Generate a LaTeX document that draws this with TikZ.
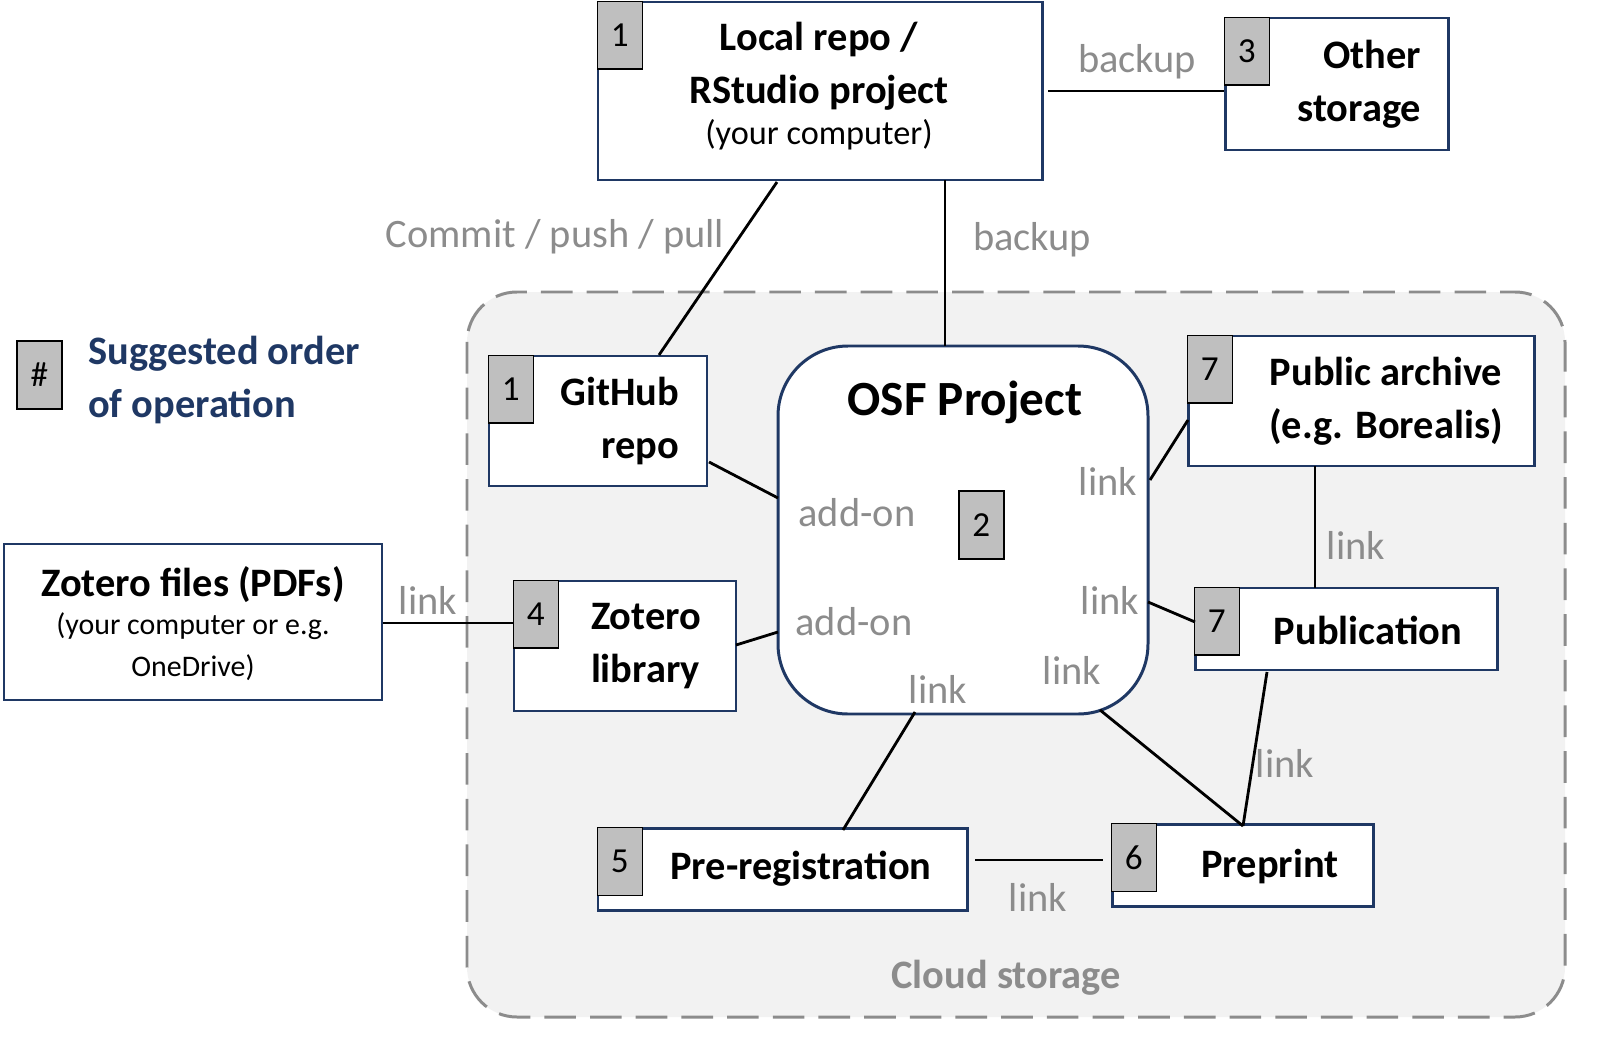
\documentclass[tikz,border=0pt]{standalone}
\usepackage{fontspec}
\setmainfont{Carlito}
\usetikzlibrary{fit}
\usetikzlibrary{positioning}
\usetikzlibrary{calc}
\definecolor{navy}{HTML}{1F3864}
\definecolor{numgray}{HTML}{BFBFBF}
\definecolor{lblgray}{HTML}{8C8C8C}
\definecolor{cloudfill}{HTML}{F2F2F2}
\tikzset{
  boxst/.style={draw=navy, line width=1.7pt, fill=white, inner sep=0pt},
  numst/.style={draw=black, line width=1pt, fill=numgray, anchor=north west,
    minimum width=0.9cm, minimum height=1.36cm, inner sep=0pt, font=\fontsize{20}{22}\selectfont},
  titlest/.style={font=\bfseries\fontsize{23}{30}\selectfont, align=center},
  lblst/.style={text=lblgray, font=\fontsize{23}{27}\selectfont},
  conn/.style={line width=1.6pt, black}
}
\begin{document}
\begin{tikzpicture}[x=0.02cm, y=-0.02cm]
    \useasboundingbox (0,0) rectangle (1617,1058);
    % cloud storage area
    \draw[lblgray, line width=1.7pt, dash pattern=on 18pt off 8pt, fill=cloudfill, rounded corners=1cm]
        (467,292) rectangle (1565,1017);
    \node[text=lblgray, font=\bfseries\fontsize{23}{26}\selectfont] (cloud) at (1006,978) {Cloud storage};

    % boxes
    \node[boxst, fit={(598,2)(1042,180)}] (local) {};
    \node[boxst, fit={(1225,18)(1448,150)}] (other) {};
    \node[boxst, fit={(489,356)(707,486)}] (github) {};
    \node[boxst, fit={(778,346)(1148,714)}, rounded corners=1.4cm] (osf) {};
    \node[boxst, fit={(1188,336)(1534,466)}] (archive) {};
    \node[boxst, fit={(1195,588)(1497,670)}] (pub) {};
    \node[boxst, fit={(4,544)(382,700)}] (zfiles) {};
    \node[boxst, fit={(514,581)(736,711)}] (zlib) {};
    \node[boxst, fit={(598,828)(967,910)}] (prereg) {};
    \node[boxst, fit={(1112,824)(1373,906)}] (preprint) {};

    % numbers
    \node[numst] (nlocal) at (local.north west) {1};
    \node[numst] (nother) at (other.north west) {3};
    \node[numst] (ngit) at (github.north west) {1};
    \node[numst] (narch) at (archive.north west) {7};
    \node[numst] (npub) at (pub.north west) {7};
    \node[numst] (nzlib) at (zlib.north west) {4};
    \node[numst] (npre) at (prereg.north west) {5};
    \node[numst] (nprint) at (preprint.north west) {6};
    \node[numst] (nosf) at (958,490) {2};
    \node[numst] (nleg) at (16,340) {\#};

    % texts
    \node[titlest] (tlocal) at (819,66) {Local repo /\\RStudio project};
    \node[font=\fontsize{19.5}{23}\selectfont] (tlocal2) at (819,135) {(your computer)};
    \node[titlest, align=right] (tother) at (1352,84) {\hspace*{1em}Other\\storage};
    \node[titlest, align=right] (tgit) at (620,421) {GitHub\\\hspace*{1em}repo};
    \node[font=\bfseries\fontsize{28}{32}\selectfont] (tosf) at (965,402) {OSF Project};
    \node[titlest] (tarch) at (1386,401) {Public archive\\(e.g. Borealis)};
    \node[titlest] (tpub) at (1368,630) {Publication};
    \node[titlest] (tzf) at (193,585) {Zotero files (PDFs)};
    \node[font=\fontsize{17}{24}\selectfont, align=center] (tzf2) at (193,647) {(your computer or e.g.\\OneDrive)};
    \node[titlest, align=left] (tzlib) at (646,646) {Zotero\\library};
    \node[titlest] (tpre) at (801,869) {Pre-registration};
    \node[titlest] (tprint) at (1270,866) {Preprint};
    \node[font=\bfseries\fontsize{23}{30}\selectfont, text=navy, align=left, anchor=west] (tleg) at (82,380) {Suggested order\\of operation};

    % connectors
    \draw[conn] (945,180) -- (945,346);
    \draw[conn] (1048,91) -- (other.west |- 0,91);
    \draw[conn] (777,182) -- (659,355);
    \draw[conn] (709,462) -- (778,498);
    \draw[conn] (736,645) -- (778,632);
    \draw[conn] (zfiles.east |- 0,623) -- (zlib.west |- 0,623);
    \draw[conn] (1150,480) -- (1188,420);
    \draw[conn] (1148,602) -- (1195,622);
    \draw[conn] (1315,466) -- (1315,588);
    \draw[conn] (915,712) -- (843,830);
    \draw[conn] (1100,710) -- (1243,826);
    \draw[conn] (1267,672) -- (1243,826);
    \draw[conn] (975,860) -- (1103,860);

    % connector labels
    \node[lblst] (lb1) at (1137,62) {backup};
    \node[lblst] (lb2) at (1032,240) {backup};
    \node[lblst] (lb3) at (555,237) {Commit / push / pull};
    \node[lblst] (lb4) at (857,513) {add-on};
    \node[lblst] (lb5) at (854,622) {add-on};
    \node[lblst] (lb6) at (428,600) {link};
    \node[lblst] (lb7) at (1108,481) {link};
    \node[lblst] (lb8) at (1110,600) {link};
    \node[lblst] (lb9) at (1356,545) {link};
    \node[lblst] (lb10) at (938,689) {link};
    \node[lblst] (lb11) at (1072,670) {link};
    \node[lblst] (lb12) at (1285,763) {link};
    \node[lblst] (lb13) at (1038,897) {link};
\end{tikzpicture}
\end{document}
